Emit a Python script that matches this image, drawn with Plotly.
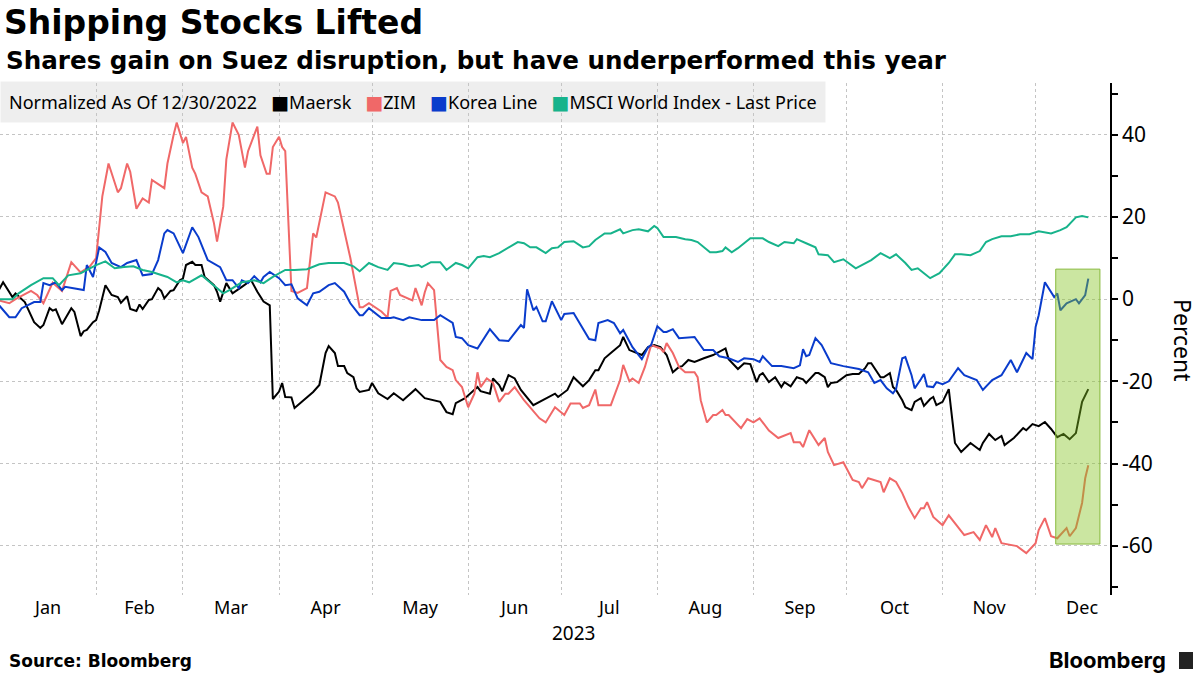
import pandas as pd
import plotly.graph_objects as go

# ---------------- data (day offset from 2023-01-01, % change since 12/30/2022) -------------
BASE_DATE = "2023-01-01"

maersk = [(-2,0),(1,4.1),(4,0.5),(5,1.4),(8,-0.7),(11,-5.6),(13,-7),(14,-6.3),(16,-2.2),(17,-2.8),(18,-2.5),
 (20,-6.1),(23,-2.2),(24,-3.1),(26,-9),(27,-7.8),(28,-7.5),(30,-5.6),(31,-5.1),(32,-2.7),(34,3.4),(36,1),(38,0.5),
 (39,-0.9),(41,0.7),(42,-2.4),(44,-2.9),(45,-1.3),(46,-2.4),(48,-0.2),(49,0),(51,2.7),(52,2),(53,0.2),(55,2),(56,2.2),
 (58,4.6),(59,5),(60,8.3),(62,9.1),(63,8.3),(65,8.3),(66,5.4),(69,3.4),(70,1.8),(71,-0.6),(73,3.9),(75,1.4),(78,3),
 (81,4.6),(83,1.8),(85,-0.6),(87,-1.5),(88,-24.3),(90,-22.5),(91,-20.4),(92,-23.8),(94,-23.9),(95,-26.5),(98,-24.6),
 (101,-22.6),(103,-20.9),(104,-16.5),(105,-13.1),(106,-11.4),(108,-13.1),(109,-16.3),(111,-16.3),(112,-18),(114,-19),
 (115,-21.7),(116,-22.6),(119,-22.1),(120,-20.4),(122,-22.9),(123,-23.4),(125,-24.3),(127,-22.9),(130,-24.6),(134,-21.9),
 (137,-24.1),(142,-25),(144,-27.5),(146,-28),(147,-25.3),(150,-24.1),(154,-21.4),(155,-22.4),(158,-23),(159,-19.3),
 (161,-20.9),(162,-22.4),(164,-18.5),(166,-19.3),(168,-22.1),(172,-25.8),(175,-24.6),(177,-23.8),(179,-23),(180,-23.8),
 (183,-22.1),(185,-19),(188,-21.2),(190,-19.7),(192,-17.3),(193,-17.3),(195,-14.4),(197,-13.1),(200,-11.2),(201,-9.2),
 (203,-12.4),(207,-13.6),(209,-11.7),(211,-11.2),(213,-11.7),(215,-13.6),(217,-17.8),(219,-16.5),(220,-16.3),(222,-14.8),
 (224,-15.3),(227,-14.4),(230,-13.6),(234,-12),(235,-14.6),(238,-17),(240,-15.6),(242,-15.8),(244,-20.2),(245,-18.5),
 (246,-18),(248,-20.2),(250,-19),(252,-21.4),(253,-20.2),(255,-21.2),(257,-19),(259,-19.5),(260,-20.4),(263,-18),
 (264,-18),(266,-19),(267,-21.4),(268,-20.4),(270,-20.2),(273,-18.5),(275,-18.2),(277,-18.2),(279,-16.8),(280,-15.6),
 (281,-15.6),(284,-19),(285,-19),(287,-18),(288,-21.4),(289,-22.1),(291,-24.6),(292,-26.3),(294,-27),(295,-25),
 (297,-24.1),(298,-26),(300,-24.3),(301,-23.8),(302,-25.8),(304,-25),(306,-21.9),(308,-35),(310,-37.2),(313,-35),
 (316,-36.7),(317,-35),(319,-32.8),(321,-34.3),(323,-33.3),(324,-35.5),(327,-33.8),(330,-31.4),(331,-31.9),(333,-30.4),
 (335,-30.9),(337,-29.9),(339,-31.6),(341,-33.6),(343,-32.8),(345,-34.1),(347,-32.6),(349,-25),(351,-21.9)]

zim = [(-2,0),(3,-1),(5,0),(10,2),(12,1),(14,-1),(17,4),(20,2),(23,9),(26,6.5),(29,8),(31,10),(33,25),(35,33),
 (38,26),(39,27),(41,33),(42,31),(44,22),(46,24.5),(48,23.5),(49,29),(53,27),(54,33),(56,40),(57,43),(59,38),(60,39.5),
 (62,32),(63,30.5),(65,26),(67,25),(69,18.5),(70,14),(72,22.5),(73,34),(75,43),(77,40),(79,32),(80,36),(83,42),(84,35),
 (86,30.5),(87,30.5),(88,37),(90,39.5),(91,37),(92,36),(94,2),(96,1.5),(99,2.7),(101,16),(102,15),(103,18.5),(105,26),
 (108,25),(109,23.5),(113,10),(116,-2),(117,-2),(119,-1),(123,-3),(125,-4.5),(126,2),(128,2.7),(129,1),(133,-0.3),
 (134,2.7),(136,-1.5),(137,1.7),(138,3.9),(140,2.2),(141,-6.7),(142,-14.8),(144,-16.5),(146,-17.3),(147,-19.7),
 (149,-21.4),(151,-26.3),(153,-23),(154,-17.8),(155,-21.4),(157,-19.3),(159,-20.4),(161,-25),(163,-23),(164,-23),
 (166,-21.4),(169,-24.6),(174,-29),(176,-30),(179,-26.3),(182,-28.2),(184,-25.4),(187,-25.4),(188,-26.5),(190,-25.8),
 (192,-22),(193,-25.8),(197,-25.8),(200,-19.7),(201,-16),(203,-20),(204,-19.3),(206,-20.4),(208,-16.5),(210,-11.2),
 (213,-12),(214,-12.9),(215,-10.7),(217,-13.1),(219,-16.5),(221,-17.8),(224,-17.8),(225,-19),(226,-24.6),(228,-30),
 (230,-28.2),(231,-28.2),(233,-27),(234,-28.2),(235,-28.2),(239,-31.4),(241,-29.2),(243,-30),(245,-29),(248,-32),
 (251,-33.8),(255,-32.6),(256,-34.8),(258,-34.8),(259,-36),(261,-31.9),(264,-35.5),(266,-33.8),(267,-37.2),(269,-40.4),
 (272,-39.7),(275,-44),(277,-44.5),(278,-46),(280,-43.6),(284,-44.5),(285,-47),(287,-43.6),(289,-44.5),(291,-47.2),
 (293,-50.6),(295,-53.3),(297,-50.9),(298,-50.9),(299,-49.4),(301,-53),(304,-55),(306,-52.6),(308,-54.5),(311,-57.4),
 (314,-56.7),(316,-58.6),(318,-55),(320,-57.9),(321,-55.7),(323,-59.4),(328,-60.1),(331,-61.8),(334,-59.4),(335,-56.2),
 (337,-53.3),(339,-57.7),(341,-58.2),(344,-55.7),(345,-57.7),(347,-55.7),(349,-49.6),(350,-43.6),(351,-40.4)]

korea_line = [(-2,0),(3,-4.4),(5,-4.4),(7,-2.2),(11,-0.7),(13,-0.7),(14,3.9),(16,3.4),(18,4.1),(20,2.2),(21,3),
 (27,2.2),(28,8.3),(30,5.4),(32,12.6),(34,11.5),(36,8.8),(39,7.8),(41,8.8),(44,9.5),(46,5.8),(49,6.1),(51,9.5),(53,16),
 (54,16.8),(56,16),(59,11.2),(62,17.5),(64,15.1),(67,9.5),(71,7.8),(73,4.6),(75,4.6),(77,2.7),(78,4.6),(80,3.9),
 (82,5.6),(84,4.1),(85,5.4),(87,6.6),(90,5.1),(92,3.4),(94,3.6),(96,0.2),(99,-1.5),(101,1.4),(103,1.8),(106,3.4),
 (108,3.9),(111,1.8),(113,-1),(116,-3.9),(117,-3.9),(119,-2.2),(123,-4.6),(126,-4.6),(127,-4.4),(130,-5.1),(132,-4.4),
 (136,-5.1),(140,-5.1),(142,-3.9),(146,-5.8),(147,-9.2),(149,-9.5),(151,-11.2),(154,-12),(156,-9.5),(158,-7.3),
 (161,-10),(164,-10.2),(168,-6.3),(169,-7),(170,2.4),(172,-2.7),(173,-1.9),(175,-5.4),(176,-5.4),(178,-0.5),(181,-5.1),
 (182,-3.6),(185,-3.4),(187,-5.8),(190,-9.7),(192,-10),(193,-5.8),(196,-5.1),(198,-5.8),(200,-8.3),(201,-7.5),
 (204,-11.7),(207,-14.6),(209,-11.7),(210,-11.2),(212,-6.6),(214,-8),(215,-8),(217,-7.3),(219,-9.5),(224,-9.2),
 (227,-12.4),(230,-12.4),(232,-13.9),(235,-14.4),(238,-15.3),(240,-14.4),(243,-14.6),(245,-15.3),(246,-13.9),
 (249,-16.3),(252,-16.3),(256,-16.8),(258,-16.1),(259,-12.2),(260,-13.9),(261,-13.6),(263,-9.5),(265,-11.2),(267,-14.1),
 (268,-15.6),(272,-16.3),(277,-17),(280,-17.8),(282,-20.4),(284,-19.7),(286,-21.7),(288,-22.9),(289,-21.9),(291,-14.4),
 (292,-14.1),(294,-18.5),(295,-21.7),(297,-19.5),(298,-18.2),(299,-21.2),(301,-21.4),(302,-20.2),(304,-20.7),(306,-20),
 (309,-16.8),(311,-18.5),(315,-19.7),(317,-22.1),(320,-19.7),(323,-18.5),(326,-14.8),(328,-17.8),(331,-13.1),
 (333,-14.6),(334,-6.8),(335,-3.9),(337,4.1),(340,0.5),(341,1.4),(342,-2.7),(344,-1),(347,0),(348,-1),(350,1),(351,5)]

msci_world = [(-2,0),(4,0),(6,1.4),(10,3.4),(14,5.1),(17,5.1),(19,3.4),(22,5.8),(26,6.3),(29,7.5),(31,8.3),(34,9.2),
 (37,7.5),(40,7.8),(43,8),(46,7.1),(49,6.6),(54,5.4),(57,4.1),(59,4.6),(61,4.1),(65,5.8),(69,3.4),(72,1.4),(74,2.2),
 (78,4.1),(82,4.6),(85,3.9),(88,5.4),(92,7.1),(95,7.1),(99,7.3),(103,8.5),(106,8.8),(111,8.8),(114,8),(116,6.8),
 (119,8.8),(122,7.8),(125,7.1),(127,8.8),(130,8.5),(132,8),(135,8.3),(136,7.8),(139,9),(142,9),(144,7.1),(147,8.8),
 (149,8.3),(151,7.5),(154,10.2),(156,10.5),(158,10.2),(161,11.2),(164,12.6),(167,13.9),(169,13.6),(171,12.6),
 (173,12.6),(176,11.2),(178,12.4),(180,12.6),(182,13.9),(185,14.1),(188,12.6),(190,12.9),(192,14.4),(195,16),(197,16),
 (200,17),(201,16),(204,16.8),(206,17),(209,16.5),(211,17.8),(212,17.3),(214,15.1),(218,15.1),(221,14.6),(223,14.4),
 (225,13.9),(229,11.4),(231,11.4),(233,11.7),(234,12.6),(236,11.4),(238,12.4),(242,14.8),(246,14.8),(248,13.9),
 (251,12.9),(253,13.9),(256,13.6),(257,14.6),(260,13.6),(263,12.6),(264,10.9),(267,10.7),(269,9),(272,9.7),(276,7.5),
 (278,8.3),(281,9.5),(284,11.2),(287,10),(289,10.9),(292,8.8),(294,7.1),(296,7.5),(298,6.3),(300,5.1),(303,6.3),
 (306,8.8),(308,10.9),(310,10.9),(313,10.7),(316,11.7),(318,13.9),(320,14.6),(323,15.3),(326,15.3),(329,15.8),
 (332,15.8),(335,16.5),(339,16),(342,16.8),(344,17.5),(347,19.9),(349,20.2),(351,19.9)]

series_names = ["Maersk", "ZIM", "Korea Line", "MSCI World Index - Last Price"]
series_colors = ["#000000", "#f06868", "#0a3ccc", "#17b38b"]
series_data = [maersk, zim, korea_line, msci_world]

y_tick_values = [-60, -40, -20, 0, 20, 40]
y_tick_text = ["-60", "-40", "-20", "0", "20", "40"]
y_minor_values = [-70, -50, -30, -10, 10, 30, 50]
highlight_start, highlight_end = "2023-12-07 12:00", "2023-12-21 18:00"
highlight_low, highlight_high = -59.6, 7.3

# ---------------- figure ----------------
W, H = 1200, 675
ML, MR, MT, MB = 0, 90, 83, 80
PW, PH = W - ML - MR, H - MT - MB


def px_x(x):
    return (x - ML) / PW


def px_y(y):
    return (H - MB - y) / PH


base = pd.Timestamp(BASE_DATE)
fig = go.Figure()
for name, color, data in zip(series_names, series_colors, series_data):
    days = [d for d, _ in data]
    vals = [v for _, v in data]
    dates = base + pd.to_timedelta(days, unit="D")
    fig.add_trace(go.Scatter(x=dates, y=vals, mode="lines", name=name,
                             line=dict(color=color, width=2), showlegend=False))

fig.add_shape(type="rect", xref="x", yref="y", x0=highlight_start, x1=highlight_end,
              y0=highlight_low, y1=highlight_high, layer="above",
              fillcolor="rgba(130,195,30,0.42)", line=dict(color="rgb(135,185,60)", width=1))

TICK_FONT = "Noto Sans"
GAP = "\u00a0" * 3
legend_parts = ["Normalized As Of 12/30/2022"]
for name, color in zip(series_names, series_colors):
    legend_parts.append(
        f"<span style='color:{color};font-family:DejaVu Sans;font-size:19px'>\u25A0</span>{name}")
legend_text = GAP.join(legend_parts)

annotations = [
    dict(text="Shares gain on Suez disruption, but have underperformed this year",
         xref="paper", yref="paper", x=px_x(4), y=px_y(60), xanchor="left", yanchor="middle",
         showarrow=False, font=dict(family="DejaVu Sans", size=24.6, color="#000", weight="bold")),
    dict(text=legend_text, xref="paper", yref="paper", x=px_x(0), y=px_y(102),
         xanchor="left", yanchor="middle", showarrow=False, bgcolor="rgba(200,200,200,0.3)",
         borderpad=8, font=dict(family=TICK_FONT, size=18, color="#000")),
    dict(text="Percent", xref="paper", yref="paper", x=px_x(1183), y=px_y(340),
         xanchor="center", yanchor="middle", textangle=90, showarrow=False,
         font=dict(family=TICK_FONT, size=23, color="#000")),
    dict(text="2023", xref="x", yref="paper", x="2023-07-05", y=px_y(633),
         xanchor="center", yanchor="middle", showarrow=False,
         font=dict(family=TICK_FONT, size=19, color="#000")),
    dict(text="Source: Bloomberg", xref="paper", yref="paper", x=px_x(7), y=px_y(661),
         xanchor="left", yanchor="middle", showarrow=False,
         font=dict(family="DejaVu Sans", size=17, color="#000", weight="bold")),
    dict(text="Bloomberg", xref="paper", yref="paper", x=px_x(1168), y=px_y(660),
         xanchor="right", yanchor="middle", showarrow=False,
         font=dict(family="Inter", size=22, color="#000", weight="bold")),
]

fig.add_shape(type="rect", xref="paper", yref="paper", x0=px_x(1179), x1=px_x(1193),
              y0=px_y(669), y1=px_y(652), fillcolor="#222222", line=dict(width=0), layer="above")

fig.update_layout(
    width=W, height=H, margin=dict(l=ML, r=MR, t=MT, b=MB),
    paper_bgcolor="white", plot_bgcolor="white",
    title=dict(text="Shipping Stocks Lifted", x=4 / W, xanchor="left", xref="container",
               y=1 - 22 / H, yanchor="middle", yref="container",
               font=dict(family="DejaVu Sans", size=33, color="#000", weight="bold")),
    annotations=annotations,
    xaxis=dict(type="date", range=["2023-01-01", "2023-12-25"], dtick="M1", tick0="2023-01-01",
               tickformat="%b", ticklabelmode="period", showgrid=True, gridcolor="#c4c4c4",
               griddash="dot", gridwidth=1, zeroline=False, showline=False, ticks="",
               tickfont=dict(family=TICK_FONT, size=18, color="#000")),
    yaxis=dict(side="right", range=[-72, 52.6], tickvals=y_tick_values, ticktext=y_tick_text,
               showgrid=True, gridcolor="#c4c4c4", griddash="dot", zeroline=False, showline=True,
               linecolor="#000", linewidth=1.5, ticks="outside", ticklen=6, tickcolor="#000",
               tickwidth=1.5,
               minor=dict(tickvals=y_minor_values, ticks="outside", ticklen=6, tickcolor="#000",
                          showgrid=False),
               tickfont=dict(family=TICK_FONT, size=21, color="#000")),
)

fig.write_html("out.html", config={"displayModeBar": False},
               post_script="document.body.style.margin='0px';")
